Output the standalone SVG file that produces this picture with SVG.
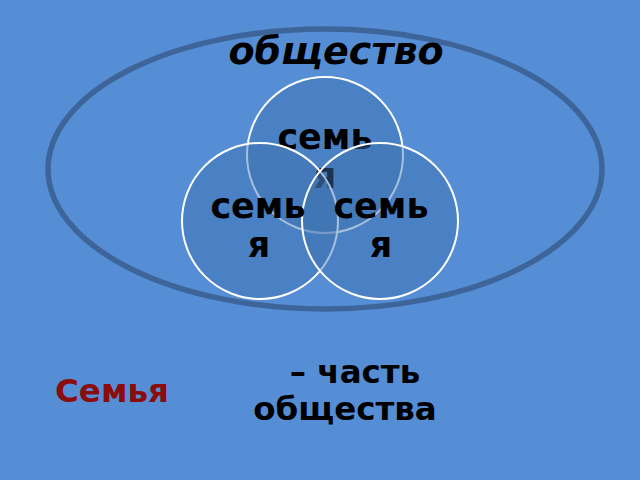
<svg xmlns="http://www.w3.org/2000/svg" width="640" height="480" viewBox="0 0 640 480">
<style>
.t{font-family:"DejaVu Sans","Liberation Sans",sans-serif;font-weight:bold;fill:#000}
.c{fill:#3f72b0;fill-opacity:0.45;stroke:#fff;stroke-width:2}
</style>
<rect width="640" height="480" fill="#558ed5"/>
<g id="society">
<ellipse cx="325" cy="169" rx="277" ry="140" fill="none" stroke="#3d6599" stroke-width="5.5"/>
<text class="t" x="336" y="64" font-size="38" font-style="italic" text-anchor="middle">общество</text>
</g>
<g id="family-top">
<circle class="c" cx="325" cy="155" r="78"/>
<text class="t" x="325" y="149" font-size="35" text-anchor="middle">семь</text>
<text class="t" x="325" y="188" font-size="35" text-anchor="middle">я</text>
</g>
<g id="family-left">
<circle class="c" cx="260" cy="221" r="78"/>
</g>
<g id="family-right">
<circle class="c" cx="380" cy="221" r="78"/>
</g>
<g id="labels">
<text class="t" x="258" y="218" font-size="35" text-anchor="middle">семь</text>
<text class="t" x="259" y="257" font-size="35" text-anchor="middle">я</text>
<text class="t" x="381" y="218" font-size="35" text-anchor="middle">семь</text>
<text class="t" x="381" y="257" font-size="35" text-anchor="middle">я</text>
</g>
<g id="caption">
<text class="t" x="55" y="402" font-size="32.5" style="fill:#8b0c0c">Семья</text>
<text class="t" x="355" y="383" font-size="32.5" text-anchor="middle">– часть</text>
<text class="t" x="345" y="420" font-size="32.5" text-anchor="middle">общества</text>
</g>
</svg>
